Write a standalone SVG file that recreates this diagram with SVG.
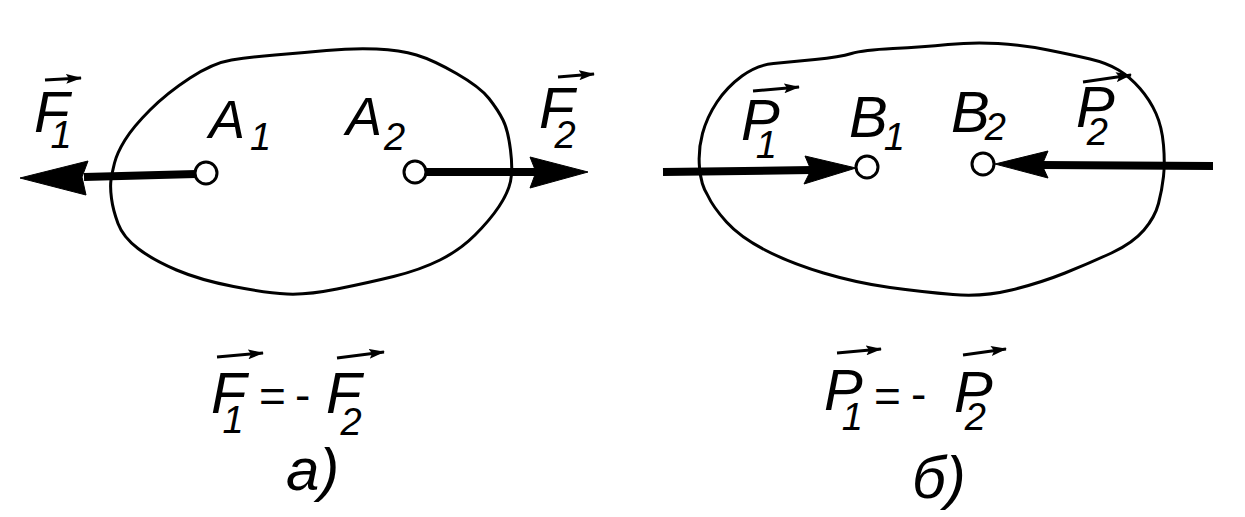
<svg xmlns="http://www.w3.org/2000/svg" width="1245" height="517" viewBox="0 0 1245 517">
<style>
.bg{fill:#fff}
.blob{fill:none;stroke:#000;stroke-width:3;stroke-linejoin:round}
.pt{fill:#fff;stroke:#000;stroke-width:3}
.shaft{stroke:#000;stroke-width:8;fill:none}
.head{fill:#000;stroke:#000;stroke-width:1;stroke-linejoin:round}
.vec{stroke:#000;stroke-width:3;fill:none;marker-end:url(#vh)}
.L{font-family:"Liberation Sans",Arial,sans-serif;font-style:italic;font-size:58px;fill:#000}
.A{font-size:54px}
.s{font-size:38px}
.op{font-family:"Liberation Sans",Arial,sans-serif;font-size:46px;fill:#000}
.cap{font-family:"Liberation Sans",Arial,sans-serif;font-style:italic;font-size:60px;fill:#000}
</style>
<defs>
<marker id="vh" markerUnits="userSpaceOnUse" markerWidth="16" markerHeight="10" refX="15" refY="5" orient="auto">
<path d="M0,0 L16,5 L0,10 L3,5 Z" fill="#000"/>
</marker>
</defs>
<rect class="bg" x="0" y="0" width="1245" height="517"/>

<g id="body-a">
<path class="blob" d="M111,180 Q112,173 114.5,163 Q117,153 125,140 Q133,127 150,110 Q167,93 190,78 Q213,63 231.5,60 Q250,57 275,55 Q300,53 326.5,50.5 Q353,48 376.5,49 Q400,50 416.5,55 Q433,60 456.5,73.5 Q480,87 489,98.5 Q498,110 503,120 Q508,130 510.5,150 Q513,170 510.5,181.5 Q508,193 499,206.5 Q490,220 475,235 Q460,250 440,260 Q420,270 393.5,276.5 Q367,283 337,289 Q307,295 287,294 Q267,293 233.5,286.5 Q200,280 176.5,270 Q153,260 138,248.5 Q123,237 118,223.5 Q113,210 111.5,198.5 Q110,187 111,180 Z"/>
</g>
<g id="body-b">
<path class="blob" d="M707.5,195 Q701,185 699.5,167.5 Q698,150 702.5,133.5 Q707,117 717,102 Q727,87 742,76 Q757,65 773.5,63.5 Q790,62 815,59.5 Q840,57 851.5,53.5 Q863,50 893,48.5 Q923,47 948,44.5 Q973,42 998,43.5 Q1023,45 1048,50 Q1073,55 1090,59 Q1107,63 1118.5,70 Q1130,77 1140,88.5 Q1150,100 1156,113.5 Q1162,127 1163.5,145 Q1165,163 1163.5,176.5 Q1162,190 1158.5,203.5 Q1155,217 1144,230 Q1133,243 1111.5,253 Q1090,263 1065,273 Q1040,283 1011.5,290 Q983,297 953,294.5 Q923,292 890,287.5 Q857,283 823.5,273 Q790,263 765,250 Q740,237 726.5,222 Q713,207 707.5,195 Z"/>
</g>

<g id="connectors">
<line class="shaft" x1="196" y1="174" x2="84" y2="177"/>
<polygon class="head" points="20,178 88,161 82,177 86,195"/>
<line class="shaft" x1="426" y1="172" x2="537" y2="172"/>
<polygon class="head" points="588,172 530,157 536,172 530,188"/>
<line class="shaft" x1="663" y1="172" x2="812" y2="170"/>
<polygon class="head" points="856,168 805,156 811,170 804,184"/>
<line class="shaft" x1="1213" y1="166" x2="1041" y2="165"/>
<polygon class="head" points="995,164 1048,151 1042,165 1048,178"/>
</g>

<g id="A1">
<circle class="pt" cx="206" cy="173" r="11"/>
<text class="L A" x="209" y="138">A<tspan class="s" dx="5" dy="12">1</tspan></text>
</g>
<g id="A2">
<circle class="pt" cx="415" cy="172" r="11"/>
<text class="L A" x="346" y="135">A<tspan class="s" dx="2" dy="15">2</tspan></text>
</g>
<g id="B1">
<circle class="pt" cx="867" cy="167" r="11"/>
<text class="L" x="849" y="137">B<tspan class="s" dx="-4" dy="13">1</tspan></text>
</g>
<g id="B2">
<circle class="pt" cx="983" cy="164" r="11"/>
<text class="L" x="951" y="132">B<tspan class="s" dx="-5" dy="8">2</tspan></text>
</g>

<g id="label-F1">
<text class="L" x="34" y="132">F<tspan class="s" dx="-19" dy="16">1</tspan></text>
<line class="vec" x1="45" y1="80" x2="81" y2="78"/>
</g>
<g id="label-F2">
<text class="L" x="539" y="128">F<tspan class="s" dx="-20" dy="20">2</tspan></text>
<line class="vec" x1="558" y1="77" x2="594" y2="74"/>
</g>
<g id="label-P1">
<text class="L" x="741" y="140">P<tspan class="s" dx="-24" dy="18">1</tspan></text>
<line class="vec" x1="753" y1="91" x2="799" y2="87"/>
</g>
<g id="label-P2">
<text class="L" x="1076" y="127">P<tspan class="s" dx="-28" dy="18">2</tspan></text>
<line class="vec" x1="1083" y1="82" x2="1131" y2="75"/>
</g>

<g id="eq-a">
<text class="L" x="211" y="413">F<tspan class="s" dx="-24" dy="20">1</tspan></text>
<line class="vec" x1="217" y1="357" x2="263" y2="353"/>
<text class="op" x="259" y="412">=</text>
<text class="op" x="295" y="411">-</text>
<text class="L" x="326" y="413">F<tspan class="s" dx="-21" dy="22">2</tspan></text>
<line class="vec" x1="337" y1="358" x2="384" y2="352"/>
<text class="cap" x="286" y="490">а)</text>
</g>
<g id="eq-b">
<text class="L" x="824" y="410">P<tspan class="s" dx="-21" dy="20">1</tspan></text>
<line class="vec" x1="837" y1="353" x2="881" y2="349"/>
<text class="op" x="874" y="412">=</text>
<text class="op" x="911" y="410">-</text>
<text class="L" x="954" y="412">P<tspan class="s" dx="-28" dy="18">2</tspan></text>
<line class="vec" x1="963" y1="355" x2="1006" y2="349"/>
<text class="cap" x="912" y="498">б)</text>
</g>
</svg>
